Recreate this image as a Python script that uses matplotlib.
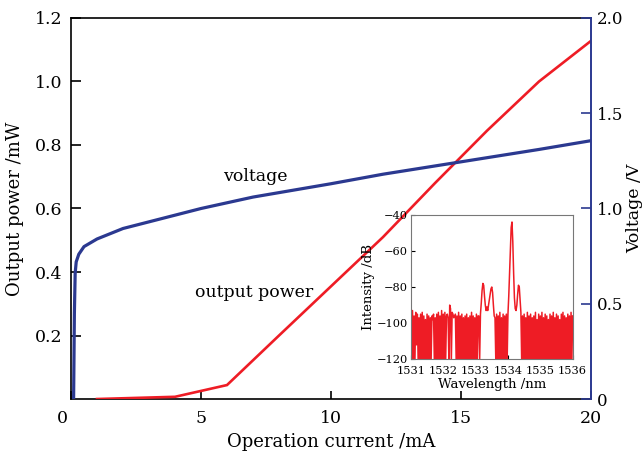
import numpy as np
import matplotlib
matplotlib.use("Agg")
import matplotlib.pyplot as plt
from matplotlib.transforms import ScaledTranslation

plt.rcParams['font.family'] = ['DejaVu Serif']
plt.rcParams['mathtext.fontset'] = 'dejavuserif'

# ---- main data ----
current_power = [1.0, 4.0, 6.0, 8.0, 10.0, 12.0, 14.0, 16.0, 18.0, 20.0]
output_power = [0.0, 0.007, 0.044, 0.20, 0.355, 0.51, 0.68, 0.845, 1.0, 1.128]

current_voltage = [0.1, 0.13, 0.16, 0.2, 0.3, 0.5, 1.0, 2.0, 3.0, 4.0, 5.0, 7.0, 10.0, 12.0, 15.0, 18.0, 20.0]
voltage = [0.0, 0.45, 0.66, 0.72, 0.76, 0.80, 0.84, 0.895, 0.93, 0.965, 1.0, 1.06, 1.13, 1.18, 1.245, 1.31, 1.356]

x_ticks = [0, 5, 10, 15, 20]
left_ticks = [0.2, 0.4, 0.6, 0.8, 1.0, 1.2]
right_ticks = [0, 0.5, 1.0, 1.5, 2.0]
right_tick_labels = ["0", "0.5", "1.0", "1.5", "2.0"]

# ---- inset spectrum (0.025 nm sampling from 1531 to 1536 nm) ----
wl_start, wl_stop = 1531.0, 1536.0
intensity = [
    -95, -121, -93, -121, -96, -121, -94, -112, -95, -121,
    -97, -121, -95, -121, -94, -121, -96, -121, -98, -121,
    -95, -121, -96, -121, -97, -121, -96, -98, -95, -121,
    -97, -121, -95, -121, -94, -121, -96, -121, -93, -121,
    -95, -121, -94, -121, -96, -95, -97, -121, -90, -92,
    -121, -94, -95, -97, -96, -95, -121, -96, -121, -94,
    -121, -96, -121, -95, -121, -97, -121, -96, -121, -95,
    -121, -97, -121, -96, -121, -94, -121, -96, -121, -97,
    -121, -95, -121, -96, -96, -121, -95, -89, -82, -78,
    -79, -85, -90, -93, -91, -93, -90, -87, -84, -81,
    -80, -83, -90, -96, -97, -121, -95, -121, -96, -121,
    -94, -121, -97, -121, -95, -121, -96, -121, -95, -121,
    -95, -85, -72, -58, -47, -44, -55, -72, -86, -92,
    -93, -90, -84, -79, -80, -87, -94, -121, -96, -121,
    -95, -121, -97, -121, -94, -121, -96, -121, -95, -121,
    -97, -121, -96, -121, -94, -121, -98, -121, -95, -121,
    -96, -121, -94, -121, -97, -121, -95, -121, -96, -121,
    -98, -121, -95, -121, -96, -121, -94, -121, -97, -121,
    -95, -121, -96, -121, -98, -121, -95, -121, -94, -121,
    -96, -121, -97, -121, -95, -121, -96, -121, -94, -121,
    -96,
]
wavelength = np.linspace(wl_start, wl_stop, len(intensity))
inset_xticks = [1531, 1532, 1533, 1534, 1535, 1536]
inset_yticks = [-120, -100, -80, -60, -40]

RED = '#ee1c25'
BLUE = '#2b3990'

fig = plt.figure(figsize=(6.42, 4.54), dpi=100)
ax = fig.add_axes([0.1106, 0.1211, 0.81, 0.8393])
ax2 = ax.twinx()

ax.plot(current_power, output_power, color=RED, lw=1.9, solid_joinstyle='miter', zorder=3)
ax2.plot(current_voltage, voltage, color=BLUE, lw=2.3, zorder=3)

ax.set_xlim(0, 20)
ax.set_ylim(0, 1.2)
ax2.set_ylim(0, 2.0)

ax.set_xticks(x_ticks)
ax.set_xticklabels([str(v) for v in x_ticks])
ax.set_yticks(left_ticks)
ax.set_yticklabels([f"{v:.1f}" for v in left_ticks])
ax2.set_yticks(right_ticks)
ax2.set_yticklabels(right_tick_labels)

ax.tick_params(axis='both', direction='in', length=7, width=1.2, labelsize=12.5, pad=6)
ax.tick_params(axis='x', length=6, pad=8)
ax2.tick_params(axis='y', direction='in', length=7, width=1.2, colors=BLUE, labelcolor='black', labelsize=12, pad=4)

# shift the x "0" label to the corner
lab0 = ax.get_xticklabels()[0]
lab0.set_transform(lab0.get_transform() + ScaledTranslation(-9/100, 0, fig.dpi_scale_trans))

for s in ['left', 'bottom', 'top']:
    ax.spines[s].set_linewidth(1.2)
    ax.spines[s].set_color('black')
ax2.spines['right'].set_color(BLUE)
ax2.spines['right'].set_linewidth(1.4)
for s in ['left', 'bottom', 'top']:
    ax2.spines[s].set_visible(False)
ax.spines['right'].set_visible(False)

ax.set_xlabel("Operation current /mA", fontsize=13, labelpad=4)
ax.set_ylabel("Output power /mW", fontsize=13, labelpad=8)
ax2.set_ylabel("Voltage /V", fontsize=12.5, labelpad=2)

ax.text(7.1, 0.70, "voltage", fontsize=12.5, ha='center', va='center')
ax.text(7.05, 0.335, "output power", fontsize=12.5, ha='center', va='center')

# inset
axi = fig.add_axes([0.640, 0.2086, 0.252, 0.3183])
axi.plot(wavelength, intensity, color=RED, lw=1.1)
axi.set_xlim(1531, 1536)
axi.set_ylim(-120, -40)
axi.set_xticks(inset_xticks)
axi.set_yticks(inset_yticks)
axi.tick_params(direction='in', length=3, width=0.8, labelsize=8.2, pad=2)
axi.tick_params(axis='x', pad=5)
for s in axi.spines.values():
    s.set_color('#777777')
    s.set_linewidth(0.8)
axi.set_xlabel("Wavelength /nm", fontsize=9.5, labelpad=1)
axi.set_ylabel("Intensity /dB", fontsize=9.5, labelpad=1)

fig.savefig("out.png", dpi=100)
